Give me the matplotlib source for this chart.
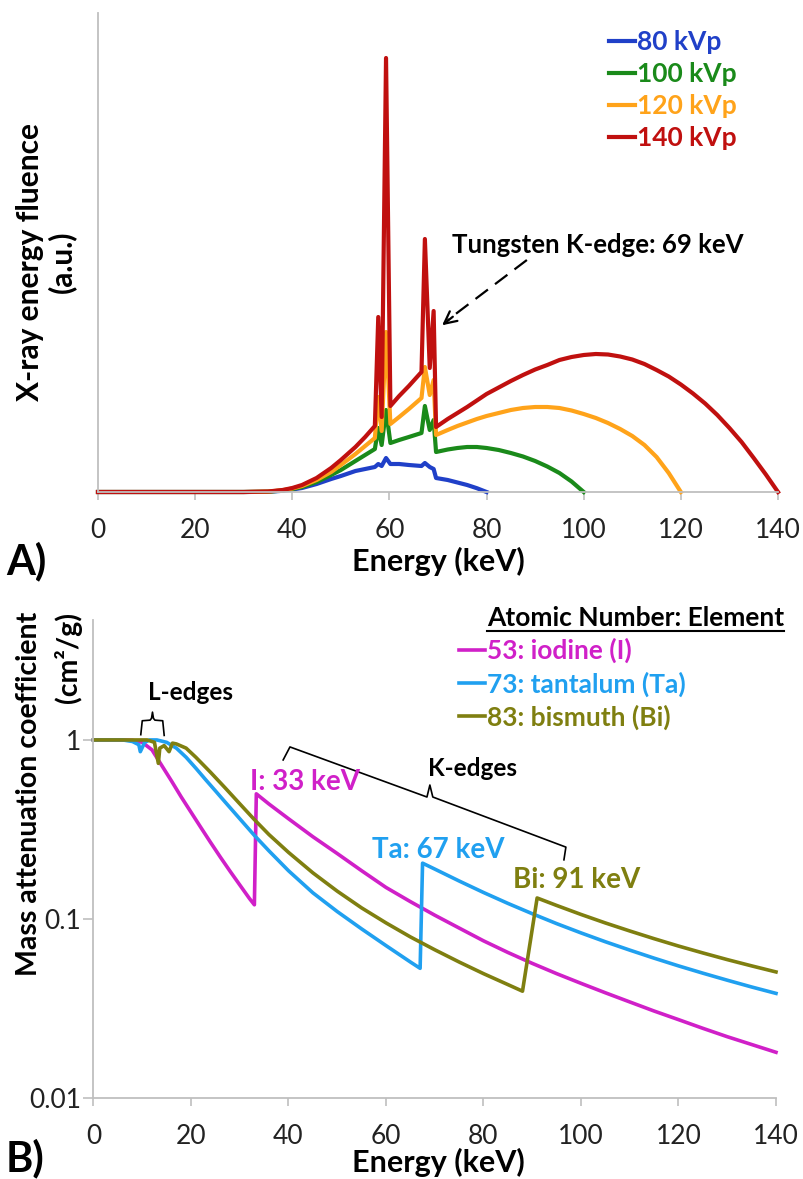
import matplotlib
matplotlib.use("Agg")
import matplotlib.pyplot as plt
from matplotlib.lines import Line2D

plt.rcParams['font.family'] = ['Lato', 'DejaVu Sans']

W, H = 804, 1179

# ---- A) x-ray spectra (a.u.) ----
energy_top = [0, 10, 20, 30, 35, 38, 40, 42, 45, 48, 50, 53, 55, 57.0, 57.7, 58.4, 59.3, 60.2,
              62, 64, 66.6, 67.3, 68.3, 69.1, 69.6, 72, 74, 76, 78, 80, 82.5, 85, 87.5, 90,
              92.5, 95, 97.5, 100, 102.5, 105, 107.5, 110, 112.5, 115, 117.5, 120, 122.5,
              125, 127.5, 130, 132.5, 135, 137.5, 140]
kvp80 = [0, 0, 0, 0, 0.2, 1.2, 2.5, 4, 8, 13, 16, 21, 23, 25, 28, 26, 34, 28,
         28, 27, 26, 29, 25, 23, 14, 12, 9.5, 7, 3.8, 0]
kvp100 = [0, 0, 0, 0, 0.3, 1.5, 3, 5, 10, 17, 22, 31, 37, 43, 64, 47, 82, 49,
          52, 55, 59, 86, 62, 72, 40, 42.5, 44, 45, 45, 44, 42, 39, 35.5, 31,
          25.5, 19, 10.5, 0]
kvp120 = [0, 0, 0, 0, 0.4, 1.8, 3.5, 6, 12, 20, 27, 38, 46, 54, 95, 61, 160, 68,
          75, 83, 94, 125, 97, 112, 57, 62, 66, 69.5, 73, 76, 79, 82, 84, 85,
          85, 84, 81.5, 78, 74, 69, 63, 56, 47, 35, 19, 0]
kvp140 = [0, 0, 0, 0, 0.5, 2, 4, 7, 14, 24, 32, 45, 55, 66, 175, 75, 434, 86,
          96, 106, 120, 253, 124, 181, 65, 73, 79, 85, 91.5, 98, 104.5, 111, 117, 122.5,
          127, 132, 135, 137, 138, 137.5, 135.5, 132.5, 128, 122, 115.5, 107.5, 98.5,
          88.5, 77, 64, 50, 34, 17.5, 0]
spectra = [('80 kVp', kvp80, '#2040C8'), ('100 kVp', kvp100, '#1A8A1A'),
           ('120 kVp', kvp120, '#FFA31A'), ('140 kVp', kvp140, '#C0100F')]

# ---- B) mass attenuation (normalised) ----
iodine_e = [0, 5, 8, 10, 12, 14, 16, 18, 20, 22, 24, 26, 28, 30, 32, 33, 33.4, 36, 40, 45,
            50, 55, 60, 65, 70, 75, 80, 85, 90, 95, 100, 105, 110, 115, 120, 125, 130,
            135, 140]
iodine_mu = [1, 1, 0.995, 0.97, 0.88, 0.72, 0.59, 0.48, 0.395, 0.325, 0.268, 0.222, 0.185,
             0.155, 0.13, 0.12, 0.5, 0.4385, 0.363, 0.288, 0.232, 0.186, 0.15, 0.125, 0.105,
             0.089, 0.0755, 0.065, 0.0565, 0.0495, 0.0437, 0.0387, 0.0344, 0.0306, 0.0274,
             0.0245, 0.022, 0.0199, 0.018]
tantalum_e = [0, 6, 8, 9.3, 9.6, 10.5, 11.5, 13, 15, 17, 19, 21, 23, 25, 27, 29, 31, 33, 36,
              40, 45, 50, 55, 60, 65, 67.0, 67.5, 70, 75, 80, 85, 90, 95, 100, 105, 110,
              115, 120, 125, 130, 135, 140]
tantalum_mu = [1, 1, 0.98, 0.94, 0.86, 0.97, 1.0, 1.0, 0.97, 0.9, 0.8, 0.695, 0.6, 0.52,
               0.45, 0.39, 0.338, 0.293, 0.24, 0.186, 0.14, 0.11, 0.088, 0.071, 0.0575,
               0.053, 0.205, 0.19, 0.163, 0.1406, 0.1222, 0.107, 0.0942, 0.0836, 0.0746,
               0.067, 0.0604, 0.0547, 0.0498, 0.0455, 0.0417, 0.0384]
bismuth_e = [0, 8, 11, 12.5, 13.3, 13.6, 14.5, 15.5, 16.2, 17, 19, 21, 24, 27, 30, 33, 36,
             40, 45, 50, 55, 60, 65, 70, 75, 80, 85, 88, 91, 95, 100, 105, 110, 115, 120,
             125, 130, 135, 140]
bismuth_mu = [1, 1, 1, 0.97, 0.74, 0.9, 0.93, 0.86, 0.96, 0.95, 0.9, 0.8, 0.66, 0.54, 0.44,
              0.359, 0.296, 0.2355, 0.181, 0.143, 0.1153, 0.0951, 0.0794, 0.0673, 0.0575,
              0.0495, 0.043, 0.0395, 0.131, 0.119, 0.106, 0.095, 0.0857, 0.0776, 0.0706,
              0.0646, 0.0593, 0.0547, 0.0506]
elements = [('53: iodine (I)', iodine_e, iodine_mu, '#D020C8'),
            ('73: tantalum (Ta)', tantalum_e, tantalum_mu, '#20A0F0'),
            ('83: bismuth (Bi)', bismuth_e, bismuth_mu, '#7F7F10')]

xticks = [0, 20, 40, 60, 80, 100, 120, 140]
yticks_b = [1, 0.1, 0.01]
ytick_labels_b = ['1', '0.1', '0.01']

grey = '#BFBFBF'


def fx(x):
    return x / W


def fy(y):
    return 1 - y / H


def style_axes(ax):
    for s in ['top', 'right']:
        ax.spines[s].set_visible(False)
    for s in ['left', 'bottom']:
        ax.spines[s].set_color(grey)
        ax.spines[s].set_linewidth(1.3)
    ax.tick_params(axis='x', direction='out', length=5.5, width=1.2, color=grey,
                   labelsize=19, pad=13, labelcolor='#222222')


fig = plt.figure(figsize=(W / 100, H / 100), dpi=100)

# panel A
ax1 = fig.add_axes([fx(98), fy(492), fx(778) - fx(98), (492 - 13) / H])
for label, vals, col in spectra:
    ax1.plot(energy_top[:len(vals)], vals, color=col, lw=3.0, label=label, clip_on=False)
ax1.set_xlim(0, 140)
ax1.set_ylim(0, 479)
ax1.set_xticks(xticks)
ax1.set_yticks([])
style_axes(ax1)
ax1.legend(loc='upper left', bbox_to_anchor=(fx(609), fy(30)), bbox_transform=fig.transFigure,
           frameon=False, handlelength=1.0, handletextpad=0.05, labelspacing=0.3,
           borderpad=0, borderaxespad=0, labelcolor='linecolor',
           prop={'weight': 'bold', 'size': 19})

fig.text(fx(452), fy(245), 'Tungsten K-edge: 69 keV', fontsize=18.5, fontweight='bold',
         va='center', ha='left')
ax1.plot([88.3, 72.0], [232, 172], color='black', lw=1.6, ls=(0, (7, 4)))
ax1.annotate('', xy=(70.4, 165), xytext=(73.5, 177),
             arrowprops=dict(arrowstyle='->', color='black', lw=1.6, mutation_scale=22))

fig.text(fx(30), fy(262), 'X-ray energy fluence', rotation=90, fontsize=21.5,
         fontweight='bold', ha='center', va='center')
fig.text(fx(62), fy(262), '(a.u.)', rotation=90, fontsize=21.5,
         fontweight='bold', ha='center', va='center')
fig.text(fx(438), fy(561), 'Energy (keV)', fontsize=22, fontweight='bold',
         ha='center', va='center')
fig.text(fx(6), fy(561), 'A)', fontsize=30, fontweight='bold', ha='left', va='center')

# panel B
ax2 = fig.add_axes([fx(93.5), fy(1098), fx(776) - fx(93.5), (1098 - 620) / H])
for label, e, mu, col in elements:
    ax2.plot(e, mu, color=col, lw=2.6, label=label, clip_on=False)
ax2.set_yscale('log')
ax2.set_xlim(0, 140)
ax2.set_ylim(0.01, 10 ** 0.67)
ax2.set_xticks(xticks)
ax2.set_yticks(yticks_b)
ax2.set_yticklabels(ytick_labels_b)
ax2.minorticks_off()
style_axes(ax2)
ax2.tick_params(axis='y', direction='out', length=7.5, width=1.2, color=grey,
                labelsize=19, pad=1.5, labelcolor='#222222')

ax2.legend(loc='upper left', bbox_to_anchor=(fx(459), fy(638)),
           bbox_transform=fig.transFigure, frameon=False, handlelength=1.0,
           handletextpad=0.05, labelspacing=0.3, borderpad=0, borderaxespad=0,
           labelcolor='linecolor', prop={'weight': 'bold', 'size': 19})
title = fig.text(fx(487), fy(618), 'Atomic Number: Element', fontsize=19,
                 fontweight='bold', ha='left', va='center')

# L-edge and K-edge brackets
l_edge_e = [9.7, 10.0, 11.6, 11.9, 12.1, 12.3, 12.6, 14.2, 14.5]
l_edge_mu = [1.07, 1.28, 1.29, 1.32, 1.43, 1.32, 1.29, 1.28, 1.06]
ax2.plot(l_edge_e, l_edge_mu, color='black', lw=1.2, clip_on=False)
k_edge_e = [38.9, 40.3, 68.4, 69.0, 69.6, 96.9, 96.5]
k_edge_mu = [0.773, 0.914, 0.48, 0.56, 0.48, 0.252, 0.214]
ax2.plot(k_edge_e, k_edge_mu, color='black', lw=1.2, clip_on=False)

fig.text(fx(148), fy(693), 'L-edges', fontsize=17.5, fontweight='bold', va='center')
fig.text(fx(428), fy(768), 'K-edges', fontsize=17.5, fontweight='bold', va='center')
fig.text(fx(250), fy(782), 'I: 33 keV', fontsize=20, fontweight='bold', va='center',
         color='#D020C8')
fig.text(fx(372), fy(850), 'Ta: 67 keV', fontsize=20, fontweight='bold', va='center',
         color='#20A0F0')
fig.text(fx(513), fy(880), 'Bi: 91 keV', fontsize=20, fontweight='bold', va='center',
         color='#7F7F10')

fig.text(fx(29), fy(612), 'Mass attenuation coefficient', rotation=90, fontsize=20.5,
         fontweight='bold', ha='center', va='top')
fig.text(fx(68), fy(612), '(cm²/g)', rotation=90, fontsize=20.5,
         fontweight='bold', ha='center', va='top')
fig.text(fx(438), fy(1162), 'Energy (keV)', fontsize=22, fontweight='bold',
         ha='center', va='center')
fig.text(fx(6), fy(1158), 'B)', fontsize=30, fontweight='bold', ha='left', va='center')

# underline for legend title
fig.canvas.draw()
bb = title.get_window_extent().transformed(fig.transFigure.inverted())
fig.add_artist(Line2D([bb.x0, bb.x1], [fy(631), fy(631)], color='black', lw=1.5,
                      transform=fig.transFigure))

fig.savefig('out.png', dpi=100)
